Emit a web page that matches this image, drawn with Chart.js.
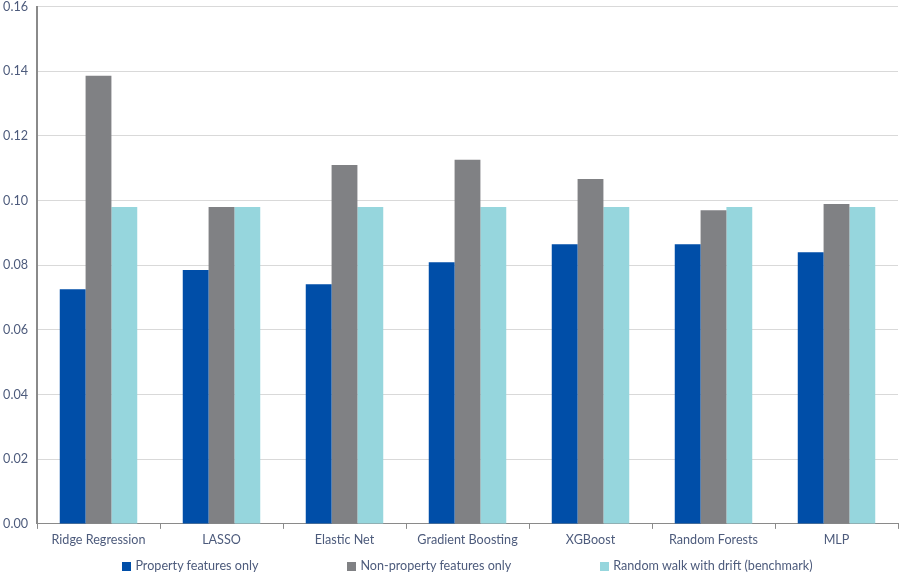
<!DOCTYPE html>
<html>
<head>
<meta charset="utf-8">
<script src="https://cdn.jsdelivr.net/npm/chart.js@4/dist/chart.umd.min.js"></script>
<style>
  html, body { margin: 0; padding: 0; background: #fff; }
  #wrap { position: relative; width: 901px; height: 575px; overflow: hidden; }
  #c { position: absolute; left: 0; top: -10px; }
  #legend { position: absolute; left: 37px; width: 861px; top: 559px; display: flex; justify-content: center; gap: 89px;
    font-family: Lato, "Open Sans", sans-serif; font-size: 12.6px; color: #4d5b7c; line-height: 14px; }
  #legend span.item { display: flex; align-items: center; white-space: nowrap; }
  #legend span.box { display: inline-block; width: 9px; height: 9px; margin-right: 4px; }
</style>
</head>
<body>
<div id="wrap">
  <canvas id="c" width="901" height="585"></canvas>
  <div id="legend"></div>
</div>
<script>
const categories = ["Ridge Regression", "LASSO", "Elastic Net", "Gradient Boosting", "XGBoost", "Random Forests", "MLP"];
const seriesNames = ["Property features only", "Non-property features only", "Random walk with drift (benchmark)"];
const propertyOnly = [0.0726, 0.0785, 0.0741, 0.0809, 0.0865, 0.0865, 0.0840];
const nonPropertyOnly = [0.1386, 0.0980, 0.1110, 0.1126, 0.1067, 0.0970, 0.0989];
const randomWalk = [0.0980, 0.0980, 0.0980, 0.0980, 0.0980, 0.0980, 0.0980];
const yTicks = [0, 0.02, 0.04, 0.06, 0.08, 0.10, 0.12, 0.14, 0.16];
const colors = ["#004EA8", "#808184", "#96D6DD"];

const tickColor = "#4d5b7c";
const fontFamily = "Lato, 'Open Sans', sans-serif";

const chart = new Chart(document.getElementById("c"), {
  type: "bar",
  data: {
    labels: categories,
    datasets: [propertyOnly, nonPropertyOnly, randomWalk].map((d, i) => ({
      label: seriesNames[i],
      data: d,
      backgroundColor: colors[i],
      borderWidth: 0,
      categoryPercentage: 0.63,
      barPercentage: 1.0
    }))
  },
  options: {
    responsive: false,
    animation: false,
    layout: { padding: { top: 0, right: 3, bottom: 25, left: 0 } },
    plugins: { legend: { display: false }, tooltip: { enabled: false } },
    scales: {
      x: {
        grid: { display: true, drawOnChartArea: false, drawTicks: true, tickLength: 5, color: "#8a8a8a", offset: true },
        border: { display: true, color: "#8a8a8a", width: 1 },
        ticks: { color: tickColor, font: { family: fontFamily, size: 12.6 }, padding: 3, maxRotation: 0 }
      },
      y: {
        min: 0, max: 0.16,
        afterBuildTicks: s => { s.ticks = yTicks.map(v => ({ value: v })); },
        afterFit: s => { s.width = 37; },
        grid: { color: "#d9d9d9", drawTicks: false, lineWidth: 1 },
        border: { display: true, color: "#8a8a8a", width: 2 },
        ticks: { color: tickColor, font: { family: fontFamily, size: 12.6 }, padding: 9,
          callback: v => Number(v).toFixed(2) }
      }
    }
  }
});

const legend = document.getElementById("legend");
seriesNames.forEach((n, i) => {
  const item = document.createElement("span");
  item.className = "item";
  const box = document.createElement("span");
  box.className = "box";
  box.style.background = colors[i];
  item.appendChild(box);
  item.appendChild(document.createTextNode(n));
  legend.appendChild(item);
});
</script>
</body>
</html>
